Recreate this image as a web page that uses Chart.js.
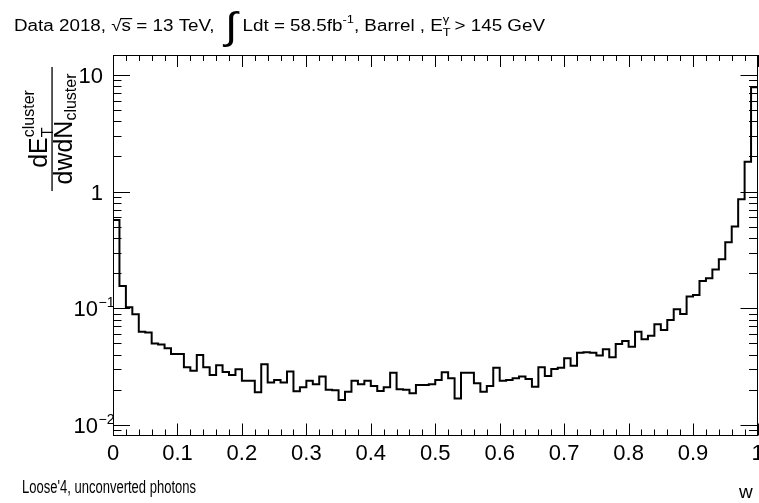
<!DOCTYPE html>
<html>
<head>
<meta charset="utf-8">
<script src="https://cdn.jsdelivr.net/npm/chart.js@4"></script>
<style>
  html, body { margin: 0; padding: 0; background: #fff; }
  #wrap { width: 759px; height: 503px; }
</style>
</head>
<body>
<div id="wrap"><canvas id="chart" width="759" height="503"></canvas></div>
<script>
// w distribution of loose'4 unconverted photons, 100 bins in [0, 1]
const wMin = 0;
const wMax = 1;
const binWidth = 0.01;

const binValues = [
  0.57, 0.155, 0.102, 0.089, 0.063, 0.062, 0.050, 0.049, 0.0454, 0.0406,
  0.0406, 0.0312, 0.0292, 0.0398, 0.0312, 0.0268, 0.0325, 0.0285, 0.0268, 0.030,
  0.024, 0.024, 0.0191, 0.0331, 0.0231, 0.0243, 0.0231, 0.0287, 0.0195, 0.0211,
  0.024, 0.0224, 0.026, 0.020, 0.0199, 0.0164, 0.0193, 0.024, 0.0224, 0.024,
  0.0216, 0.0196, 0.0211, 0.028, 0.0202, 0.0200, 0.0187, 0.022, 0.022, 0.0224,
  0.0243, 0.0283, 0.0251, 0.0169, 0.028, 0.028, 0.0228, 0.0193, 0.0216, 0.031,
  0.024, 0.0243, 0.0251, 0.026, 0.0248, 0.0213, 0.0312, 0.0263, 0.0302, 0.031,
  0.0373, 0.0322, 0.0417, 0.042, 0.0415, 0.0395, 0.0446, 0.038, 0.0494, 0.0525,
  0.0469, 0.063, 0.0542, 0.0582, 0.0729, 0.0652, 0.0794, 0.098, 0.0894, 0.126,
  0.130, 0.171, 0.181, 0.215, 0.263, 0.368, 0.501, 0.86, 1.80, 7.83
];

const xTickLabels = ["0", "0.1", "0.2", "0.3", "0.4", "0.5", "0.6", "0.7", "0.8", "0.9", "1"];
const yTickValues = [0.01, 0.1, 1, 10];
const yTickLabels = [["10", "\u22122"], ["10", "\u22121"], ["1", ""], ["10", ""]];
const yMin = 0.00813;
const yMax = 14.8;

const FONT = '"Liberation Sans", Arial, Helvetica, sans-serif';

// step line points: one per lower bin edge, plus the upper edge of the last bin
const points = binValues.map((v, i) => ({ x: wMin + i * binWidth, y: v }));
points.push({ x: wMax, y: binValues[binValues.length - 1] });

function setFont(ctx, size) {
  ctx.font = size + "px " + FONT;
}

// draw a list of [text, size, dy, advance, extra] pieces squeezed to a given width
function drawRun(ctx, pieces, x, y, width) {
  let natural = 0;
  pieces.forEach(p => { setFont(ctx, p[1]); natural += p[3] !== undefined ? p[3] : ctx.measureText(p[0]).width; });
  const sx = width / natural;
  ctx.save();
  ctx.translate(x, y);
  ctx.scale(sx, 1);
  let cur = 0;
  pieces.forEach(p => {
    setFont(ctx, p[1]);
    ctx.textAlign = "left";
    ctx.textBaseline = "alphabetic";
    ctx.fillText(p[0], cur, p[2]);
    if (p[4]) p[4](ctx, cur);
    cur += p[3] !== undefined ? p[3] : ctx.measureText(p[0]).width;
  });
  ctx.restore();
}

const rootStyle = {
  id: "rootStyle",
  afterDraw(chart) {
    const ctx = chart.ctx;
    const xs = chart.scales.x;
    const ys = chart.scales.y;
    const { left, right, top, bottom } = chart.chartArea;
    ctx.save();
    ctx.fillStyle = "#000";
    ctx.strokeStyle = "#000";
    ctx.lineWidth = 1;

    // frame
    ctx.strokeRect(Math.round(left) + 0.5, Math.round(top) + 0.5,
      Math.round(right - left) - 1, Math.round(bottom - top) - 1);

    // x ticks, major every 0.1, minor every 0.02
    ctx.beginPath();
    for (let k = 0; k <= 50; k++) {
      const px = Math.round(xs.getPixelForValue(k / 50)) + 0.5;
      const len = k % 5 === 0 ? 12 : 6;
      ctx.moveTo(px, bottom);
      ctx.lineTo(px, bottom - len);
      ctx.moveTo(px, top);
      ctx.lineTo(px, top + len);
    }
    // y ticks, log decades
    for (let d = -3; d <= 1; d++) {
      for (let m = 1; m <= 9; m++) {
        const v = m * Math.pow(10, d);
        if (v < yMin || v > yMax) continue;
        const py = Math.round(ys.getPixelForValue(v)) + 0.5;
        const len = m === 1 ? 17 : 8.5;
        ctx.moveTo(left, py);
        ctx.lineTo(left + len, py);
        ctx.moveTo(right, py);
        ctx.lineTo(right - len, py);
      }
    }
    ctx.stroke();

    // x tick labels
    setFont(ctx, 22);
    ctx.textAlign = "center";
    ctx.textBaseline = "alphabetic";
    xTickLabels.forEach((t, i) => {
      ctx.fillText(t, xs.getPixelForValue(i / 10), 460);
    });

    // y tick labels
    yTickValues.forEach((v, i) => {
      const py = ys.getPixelForValue(v);
      const [base, sup] = yTickLabels[i];
      setFont(ctx, 22);
      if (sup) {
        ctx.textAlign = "right";
        ctx.fillText(base, 98, py + 8);
        setFont(ctx, 14);
        ctx.textAlign = "left";
        ctx.fillText(sup, 98.5, py - 1);
      } else {
        ctx.textAlign = "right";
        ctx.fillText(base, 103, py + 8);
      }
    });

    // x axis title
    setFont(ctx, 19);
    ctx.textAlign = "left";
    ctx.fillText("w", 739, 498);

    // selection label
    drawRun(ctx, [["Loose'4, unconverted photons", 18, 0]], 22, 493, 174);

    // header
    const sOver = (c, x0) => {
      c.fillRect(x0 - 1, -13, c.measureText("s").width + 2, 1.2);
    };
    drawRun(ctx, [
      ["Data 2018, ", 16, 0],
      ["\u221A", 16, 0],
      ["s", 16, 0, undefined, sOver],
      [" = 13 TeV, ", 16, 0],
      [" ", 16, 0],
      ["\u222B", 38, 8],
      [" Ldt = 58.5fb", 16, 0],
      ["-1", 11, -8],
      [", Barrel , E", 16, 0],
      ["T", 11, 5, 0],
      ["\u03B3", 11, -8],
      [" > 145 GeV", 16, 0]
    ], 14, 31, 531);

    // y axis title, rotated fraction dE_T^cluster / dwdN_cluster
    const barLen = 124;
    ctx.translate(52, 191);
    ctx.rotate(-Math.PI / 2);
    ctx.fillRect(0, -0.6, barLen, 1.3);
    ctx.textAlign = "left";
    // numerator
    setFont(ctx, 25);
    const wdE = ctx.measureText("dE").width;
    setFont(ctx, 16);
    const wCl = ctx.measureText("cluster").width;
    const num0 = (barLen - (wdE + wCl)) / 2;
    setFont(ctx, 25);
    ctx.fillText("dE", num0, -5);
    setFont(ctx, 16);
    ctx.fillText("T", num0 + wdE, 1);
    ctx.fillText("cluster", num0 + wdE, -18);
    // denominator
    setFont(ctx, 25);
    const wdN = ctx.measureText("dwdN").width;
    const den0 = (barLen - (wdN + wCl)) / 2;
    ctx.fillText("dwdN", den0, 20);
    setFont(ctx, 16);
    ctx.fillText("cluster", den0 + wdN, 24);

    ctx.restore();
  }
};

const ctx = document.getElementById("chart").getContext("2d");

new Chart(ctx, {
  type: "line",
  data: {
    datasets: [
      {
        data: points,
        stepped: "before",
        borderColor: "#000",
        borderWidth: 2,
        pointRadius: 0,
        fill: false
      }
    ]
  },
  options: {
    responsive: false,
    animation: false,
    devicePixelRatio: 1,
    layout: { padding: { left: 113, top: 55, right: 1.5, bottom: 67.5 } },
    plugins: { legend: { display: false }, tooltip: { enabled: false } },
    scales: {
      x: { type: "linear", min: wMin, max: wMax, display: false },
      y: { type: "logarithmic", min: yMin, max: yMax, display: false }
    }
  },
  plugins: [rootStyle]
});
</script>
</body>
</html>
